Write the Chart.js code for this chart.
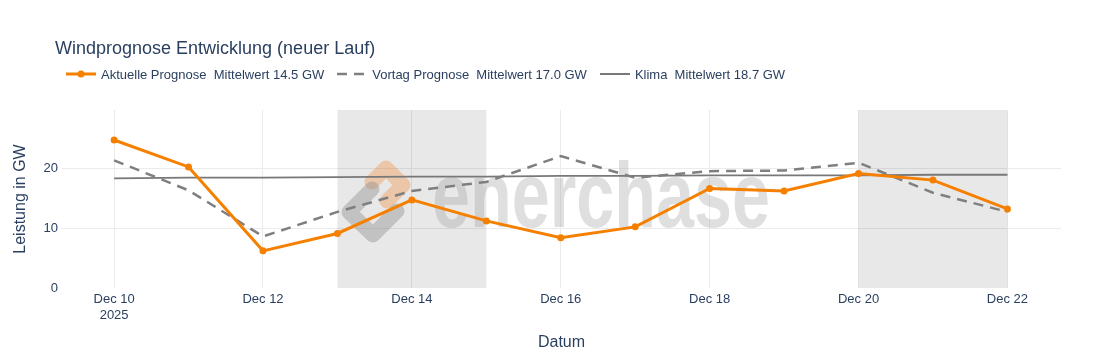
<!DOCTYPE html>
<html>
<head>
<meta charset="utf-8">
<script src="https://cdn.jsdelivr.net/npm/chart.js@4"></script>
<style>
body{margin:0;background:#fff;font-family:"Liberation Sans",Arial,sans-serif;color:#2a3f5f}
#wrap{position:relative;width:1101px;height:360px}
#title{position:absolute;left:55px;top:38px;font-size:18px;white-space:pre}
#legend{position:absolute;left:61px;top:66px;display:flex;gap:8px;font-size:13px;white-space:pre}
.item{display:flex;align-items:center;height:16px}
.item svg{width:40px;height:16px}
</style>
</head>
<body>
<div id="wrap">
  <canvas id="chart" width="1101" height="360"></canvas>
  <div id="title">Windprognose Entwicklung (neuer Lauf)</div>
  <div id="legend"></div>
</div>
<script>
// days of December 2025
const days=[10,11,12,13,14,15,16,17,18,19,20,21,22];
const aktuell=[24.7,20.2,6.2,9.1,14.7,11.2,8.4,10.2,16.6,16.2,19.1,18.0,13.2];
const vortag=[21.3,16.3,8.6,12.7,16.2,17.7,22.0,18.4,19.5,19.6,20.9,15.9,12.7];
const klima=[18.3,18.4,18.4,18.5,18.6,18.6,18.7,18.7,18.8,18.8,18.8,18.9,18.9];
const labels=['Aktuelle Prognose  Mittelwert 14.5 GW','Vortag Prognose  Mittelwert 17.0 GW','Klima  Mittelwert 18.7 GW'];
const xTicks=[10,12,14,16,18,20,22];
const yTicks=[0,10,20];
const weekendStart=[13,20];
const weekendEnd=[15,22];

const ORANGE='#f58000', DASH='#7f7f7f', KLIMA='#787878', TXT='#2a3f5f';
const FONT='"Liberation Sans", Arial, sans-serif';

// legend
const legendEl=document.getElementById('legend');
const samples=[
  `<svg><line x1="5" y1="8" x2="35" y2="8" stroke="${ORANGE}" stroke-width="3"/><circle cx="20" cy="8" r="3.5" fill="${ORANGE}"/></svg>`,
  `<svg><line x1="5" y1="8" x2="35" y2="8" stroke="${DASH}" stroke-width="2.5" stroke-dasharray="10,7"/></svg>`,
  `<svg><line x1="5" y1="8" x2="35" y2="8" stroke="${KLIMA}" stroke-width="2"/></svg>`
];
labels.forEach((t,i)=>{
  const el=document.createElement('div');
  el.className='item';
  el.innerHTML=samples[i]+'<span>'+t+'</span>';
  legendEl.appendChild(el);
});

const backdrop={
  id:'backdrop',
  beforeDatasetsDraw(chart){
    const {ctx,chartArea:a,scales:{x}}=chart;
    ctx.save();
    ctx.fillStyle='rgba(0,0,0,0.09)';
    weekendStart.forEach((s,i)=>{
      const x0=x.getPixelForValue(s), x1=x.getPixelForValue(weekendEnd[i]);
      ctx.fillRect(x0,a.top,x1-x0,a.bottom-a.top);
    });
    // watermark
    ctx.lineJoin='round';ctx.lineCap='round';
    ctx.lineWidth=15;
    ctx.strokeStyle='rgba(238,150,80,0.42)';
    ctx.beginPath();
    ctx.moveTo(372,182);ctx.lineTo(386,168);ctx.lineTo(403,185);ctx.lineTo(387,201);
    ctx.stroke();
    ctx.strokeStyle='rgba(140,140,140,0.42)';
    ctx.beginPath();
    ctx.moveTo(372,189);ctx.lineTo(349,212);ctx.lineTo(373,235);ctx.lineTo(397,211);
    ctx.stroke();
    ctx.font='bold 92px '+FONT;
    const w=ctx.measureText('enerchase').width;
    ctx.translate(432,227);
    ctx.scale(338/w,1);
    ctx.fillStyle='rgba(150,150,150,0.3)';
    ctx.fillText('enerchase',0,0);
    ctx.restore();
  }
};

new Chart(document.getElementById('chart'),{
  type:'line',
  data:{
    datasets:[
      {label:labels[0],data:days.map((d,i)=>({x:d,y:aktuell[i]})),borderColor:ORANGE,backgroundColor:ORANGE,
       borderWidth:3,pointRadius:3.5,pointBackgroundColor:ORANGE,pointBorderWidth:0},
      {label:labels[1],data:days.map((d,i)=>({x:d,y:vortag[i]})),borderColor:DASH,borderWidth:2.5,
       borderDash:[10,7],pointRadius:0},
      {label:labels[2],data:days.map((d,i)=>({x:d,y:klima[i]})),borderColor:KLIMA,borderWidth:1.8,pointRadius:0}
    ]
  },
  options:{
    responsive:false,
    animation:false,
    layout:{padding:{top:110,right:40,left:0,bottom:0}},
    plugins:{legend:{display:false},tooltip:{enabled:false}},
    scales:{
      x:{
        type:'linear',min:9.3,max:22.72,
        afterBuildTicks(s){s.ticks=xTicks.map(v=>({value:v}));},
        afterFit(s){s.height=72;},
        grid:{color:'#ebebeb',drawTicks:false},
        border:{display:false},
        ticks:{color:TXT,font:{size:13,family:FONT},padding:4,maxRotation:0,
          callback:v=>v===10?['Dec '+v,'2025']:'Dec '+v},
        title:{display:true,text:'Datum',color:TXT,font:{size:16,family:FONT},padding:{top:0,bottom:8}}
      },
      y:{
        min:0,max:29.7,
        afterBuildTicks(s){s.ticks=yTicks.map(v=>({value:v}));},
        afterFit(s){s.width=62;},
        grid:{color:c=>c.tick&&c.tick.value===0?'rgba(0,0,0,0)':'#ebebeb',drawTicks:false},
        border:{display:false},
        ticks:{color:TXT,font:{size:13,family:FONT},padding:4},
        title:{display:true,text:'Leistung in GW',color:TXT,font:{size:16,family:FONT},padding:{top:11,bottom:0}}
      }
    }
  },
  plugins:[backdrop]
});
</script>
</body>
</html>
